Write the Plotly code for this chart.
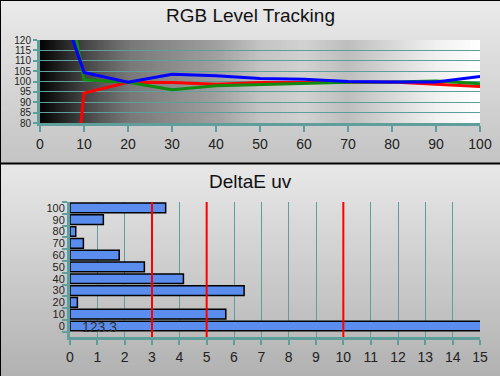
import plotly.graph_objects as go
import zlib, struct, base64

# ---------------- data ----------------
levels = [0, 10, 20, 30, 40, 50, 60, 70, 80, 90, 100]
red = [-113, 94.4, 99.6, 99.5, 98.7, 99.5, 99.5, 99.6, 99.7, 98.7, 97.6]
green = [214, 100.8, 99.6, 96.0, 97.9, 98.4, 99.2, 99.6, 99.7, 100.3, 98.9]
blue = [167, 104.3, 99.7, 103.5, 102.8, 101.4, 101.1, 100.0, 99.7, 99.8, 102.4]

de_levels = ["0", "10", "20", "30", "40", "50", "60", "70", "80", "90", "100"]
de_values = [123.3, 5.7, 0.27, 6.37, 4.15, 2.72, 1.8, 0.49, 0.21, 1.22, 3.5]
de_limits = [3, 5, 10]

W, H = 500, 376
TEAL = "#5f9e9a"


def png_uri(w, h, pix):
    raw = b""
    for y in range(h):
        raw += b"\x00" + b"".join(bytes(pix(x, y)) for x in range(w))
    def chunk(t, d):
        c = struct.pack(">I", len(d)) + t + d
        return c + struct.pack(">I", zlib.crc32(t + d) & 0xffffffff)
    png = b"\x89PNG\r\n\x1a\n" + chunk(b"IHDR", struct.pack(">IIBBBBB", w, h, 8, 2, 0, 0, 0))
    png += chunk(b"IDAT", zlib.compress(raw)) + chunk(b"IEND", b"")
    return "data:image/png;base64," + base64.b64encode(png).decode()


def interp(stops, t):
    for i in range(len(stops) - 1):
        t0, c0 = stops[i]
        t1, c1 = stops[i + 1]
        if t0 <= t <= t1:
            f = (t - t0) / (t1 - t0) if t1 > t0 else 0
            return [int(round(a + (b - a) * f)) for a, b in zip(c0, c1)]
    return list(stops[-1][1])


def vgrad(top, bot, n=64):
    return png_uri(1, n, lambda x, y: interp([(0, top), (1, bot)], y / (n - 1)))


hstops = [(0.0, (5, 5, 5)), (0.1, (70, 70, 70)), (0.2, (120, 120, 120)), (0.3, (140, 140, 140)),
          (0.4, (160, 160, 160)), (0.5, (195, 195, 195)), (0.6, (210, 210, 210)),
          (0.7, (190, 190, 190)), (0.8, (215, 215, 215)), (0.9, (240, 240, 240)), (1.0, (255, 255, 255))]
hgrad = png_uri(128, 1, lambda x, y: interp(hstops, x / 127))

sep = 1 - 163.5 / H

fig = go.Figure()

# top chart lines
for vals, col in [(red, "#ff0000"), (green, "#108a10"), (blue, "#0000ff")]:
    fig.add_trace(go.Scatter(x=levels, y=vals, mode="lines", line=dict(color=col, width=3),
                             xaxis="x", yaxis="y", showlegend=False, hoverinfo="skip"))

# bottom chart bars
fig.add_trace(go.Bar(x=de_values, y=de_levels, orientation="h", xaxis="x2", yaxis="y2",
                     marker=dict(color="#5b8def", line=dict(color="#000000", width=1.5)),
                     showlegend=False, hoverinfo="skip"))

images = [
    dict(source=vgrad((234, 234, 234), (196, 196, 196)), xref="paper", yref="paper",
         x=0, y=1, sizex=1, sizey=1 - sep, sizing="stretch", layer="below", xanchor="left", yanchor="top"),
    dict(source=vgrad((232, 232, 232), (178, 178, 178)), xref="paper", yref="paper",
         x=0, y=sep, sizex=1, sizey=sep, sizing="stretch", layer="below", xanchor="left", yanchor="top"),
    dict(source=hgrad, xref="x", yref="y", x=0, y=120, sizex=100, sizey=40, sizing="stretch",
         layer="below", xanchor="left", yanchor="top"),
]

shapes = [
    dict(type="line", xref="paper", yref="paper", x0=0, x1=1, y0=sep, y1=sep,
         line=dict(color="black", width=2)),
    dict(type="line", xref="paper", yref="paper", x0=0, x1=1, y0=1, y1=1,
         line=dict(color="black", width=2)),
    dict(type="line", xref="paper", yref="paper", x0=0, x1=0, y0=0, y1=1,
         line=dict(color="black", width=2)),
]
for v in de_limits:
    shapes.append(dict(type="line", xref="x2", yref="y2 domain", x0=v, x1=v, y0=0, y1=1,
                       line=dict(color="#ff0000", width=2), layer="above"))

font = dict(family="Arial, Liberation Sans, sans-serif", size=14, color="#222222")
common = dict(automargin=False, zeroline=False, fixedrange=True, showline=True, linecolor=TEAL,
              linewidth=3, ticks="outside", tickwidth=2, tickcolor=TEAL)

fig.update_layout(
    template="none",
    width=W, height=H, margin=dict(l=0, r=0, t=0, b=0, pad=0), autosize=False,
    paper_bgcolor="#d0d0d0", plot_bgcolor="rgba(0,0,0,0)",
    font=font, images=images, shapes=shapes, bargap=0.18,
    xaxis=dict(domain=[40 / W, 480 / W], anchor="y", range=[0, 100], dtick=10, tick0=0,
               showgrid=False, ticklen=6, tickfont=dict(size=14, color="#222222"), **common),
    yaxis=dict(domain=[1 - 123 / H, 1 - 40 / H], anchor="x", range=[80, 120], dtick=5, tick0=80,
               showgrid=True, gridcolor=TEAL, gridwidth=1, ticklen=4,
               tickfont=dict(size=10, color="#222222"), **common),
    xaxis2=dict(domain=[70 / W, 480 / W], anchor="y2", range=[0, 15], dtick=1, tick0=0,
                showgrid=True, gridcolor=TEAL, gridwidth=1, ticklen=5,
                tickfont=dict(size=14, color="#222222"), **common),
    yaxis2=dict(domain=[1 - 337 / H, 1 - 202 / H], anchor="x2", type="category",
                categoryorder="array", categoryarray=de_levels, dtick=1,
                showgrid=False, ticklen=5, tickson="boundaries",
                tickfont=dict(size=11, color="#222222"), **common),
    annotations=[
        dict(text="RGB Level Tracking", xref="paper", yref="paper", x=0.5, y=1 - 16 / H,
             showarrow=False, font=dict(size=19, color="#111111"), xanchor="center", yanchor="middle"),
        dict(text="DeltaE uv", xref="paper", yref="paper", x=0.5, y=1 - 181 / H,
             showarrow=False, font=dict(size=19, color="#111111"), xanchor="center", yanchor="middle"),
        dict(text=str(de_values[0]), xref="x2", yref="y2", x=0.35, y=de_levels[0], xanchor="left",
             yanchor="middle", yshift=-1, showarrow=False, font=dict(size=14, color="#333333")),
    ],
)

fig.write_html("out.html",
               config={"displayModeBar": False, "staticPlot": True},
               post_script="document.body.style.margin='0';document.body.style.overflow='hidden';document.documentElement.style.overflow='hidden';")
